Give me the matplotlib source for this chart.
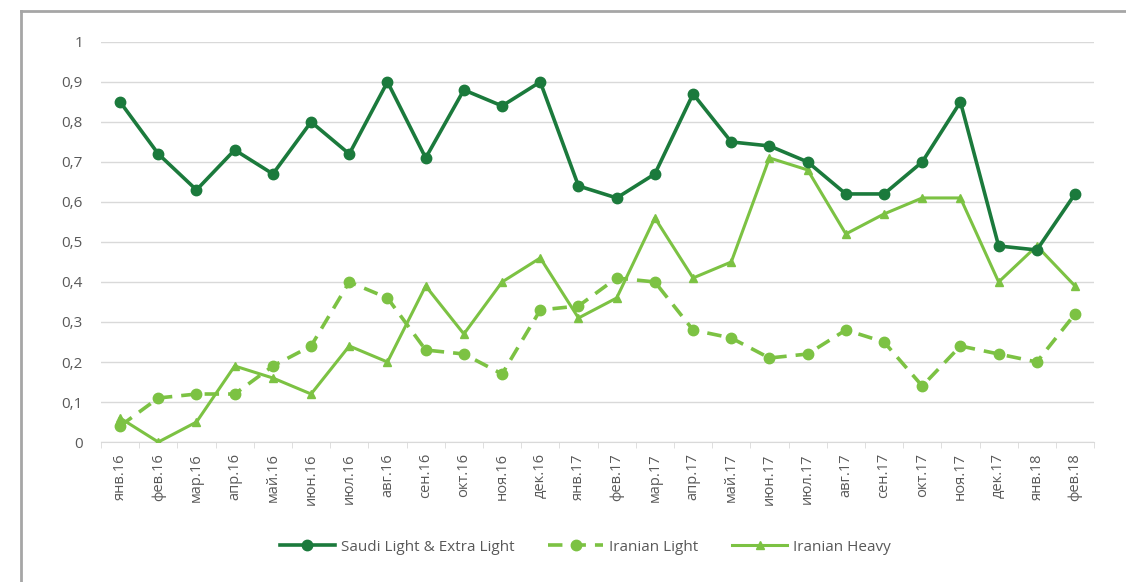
import numpy as np
import matplotlib.pyplot as plt
from matplotlib.ticker import FuncFormatter, MultipleLocator
from matplotlib.lines import Line2D

# Data

months = ["янв.16", "фев.16", "мар.16", "апр.16", "май.16", "июн.16", "июл.16",
          "авг.16", "сен.16", "окт.16", "ноя.16", "дек.16", "янв.17", "фев.17",
          "мар.17", "апр.17", "май.17", "июн.17", "июл.17", "авг.17", "сен.17",
          "окт.17", "ноя.17", "дек.17", "янв.18", "фев.18"]

saudi = [0.85, 0.72, 0.63, 0.73, 0.67, 0.80, 0.72, 0.90, 0.71, 0.88, 0.84, 0.90, 0.64,
         0.61, 0.67, 0.87, 0.75, 0.74, 0.70, 0.62, 0.62, 0.70, 0.85, 0.49, 0.48, 0.62]
iran_light = [0.04, 0.11, 0.12, 0.12, 0.19, 0.24, 0.40, 0.36, 0.23, 0.22, 0.17, 0.33, 0.34,
              0.41, 0.40, 0.28, 0.26, 0.21, 0.22, 0.28, 0.25, 0.14, 0.24, 0.22, 0.20, 0.32]
iran_heavy = [0.06, 0.00, 0.05, 0.19, 0.16, 0.12, 0.24, 0.20, 0.39, 0.27, 0.40, 0.46, 0.31,
              0.36, 0.56, 0.41, 0.45, 0.71, 0.68, 0.52, 0.57, 0.61, 0.61, 0.40, 0.49, 0.39]

plt.rcParams["font.family"] = ["Open Sans", "DejaVu Sans"]

dark_green = "#1b7a3c"
light_green = "#7cc243"
text_grey = "#595959"

fig = plt.figure(figsize=(11.26, 5.82), dpi=100)
ax = fig.add_axes([0.0897, 0.2405, 0.882, 0.6875])

x = np.arange(len(months))

ax.plot(x, saudi, color=dark_green, lw=2.6, marker="o", ms=7.5,
        label="Saudi Light & Extra Light", zorder=4)
ax.plot(x, iran_light, color=light_green, lw=2.6, marker="o", ms=7.5,
        linestyle=(0, (4, 2.5)), label="Iranian Light", zorder=3)
ax.plot(x, iran_heavy, color=light_green, lw=2.2, marker="^", ms=6,
        label="Iranian Heavy", zorder=3)

ax.set_xlim(-0.5, len(months) - 0.5)
ax.set_ylim(0, 1)
ax.yaxis.set_major_locator(MultipleLocator(0.1))
ax.yaxis.set_major_formatter(FuncFormatter(
    lambda v, p: "0" if abs(v) < 1e-9 else ("1" if abs(v - 1) < 1e-9 else f"{v:.1f}".replace(".", ","))))
ax.grid(axis="y", color="#d9d9d9", lw=1)
ax.set_axisbelow(True)

ax.set_xticks(x)
ax.set_xticklabels(months, rotation=90, fontsize=10.5, color=text_grey)
ax.set_xticks(np.arange(-0.5, len(months)), minor=True)
ax.tick_params(axis="x", which="major", length=0, pad=8)
ax.tick_params(axis="x", which="minor", length=4, color="#d9d9d9")
ax.tick_params(axis="y", length=0, labelsize=11, labelcolor=text_grey, pad=13)

for s in ["top", "right", "left"]:
    ax.spines[s].set_visible(False)
ax.spines["bottom"].set_color("#d9d9d9")

fig.legend(loc="center", bbox_to_anchor=(0.52, 0.06), ncol=3, frameon=False,
           fontsize=11, labelcolor=text_grey, handlelength=3.6, columnspacing=2.2,
           handletextpad=0.4)

# outer frame (only top and left edges visible in the crop)
fig.add_artist(Line2D([21 / 1126, 1], [1 - 11 / 582, 1 - 11 / 582],
                      transform=fig.transFigure, color="#a6a6a6", lw=2))
fig.add_artist(Line2D([21 / 1126, 21 / 1126], [0, 1 - 11 / 582],
                      transform=fig.transFigure, color="#a6a6a6", lw=2))

fig.savefig("out.png", dpi=100)
